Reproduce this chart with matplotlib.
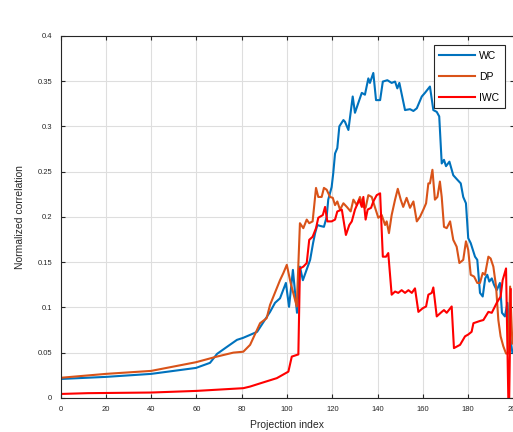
import numpy as np
import matplotlib.pyplot as plt

plt.rcParams['font.family'] = ['Liberation Sans', 'DejaVu Sans']

# values
wc_x = [1, 20.1, 40, 59.8, 66, 69.1, 73.5, 77.9, 80.6, 83.7, 86.8, 89.4, 92.5, 94.7, 96.9,
        99.5, 100.9, 102.6, 104.4, 105.7, 107, 110.2, 111.5, 112.4, 113.4, 114.6, 116.3,
        117.5, 118.2, 119.7, 120.4, 121.2, 122.2, 123.1, 124.9, 125.6, 127.1, 129.0, 130.0,
        131.9, 133.0, 134.4, 135.9, 136.6, 138.1, 139.3, 141.1, 142.3, 144.3, 146.2, 147.7,
        148.7, 149.6, 152.1, 154.3, 155.8, 157.3, 159.5, 160.9, 163.1, 164.6, 166.1, 167.2,
        168.3, 169.3, 170.2, 171.7, 173.4, 175.2, 176.7, 177.8, 179.0, 180.0, 181.1, 183.0,
        184.0, 185.2, 186.4, 187.5, 188.4, 189.3, 190.4, 191.4, 192.6, 194.0, 194.9, 196.2,
        197.3, 198.1, 199.5]
wc_y = [0.021, 0.0232, 0.0265, 0.0331, 0.0387, 0.0486, 0.0564, 0.0641, 0.0663, 0.0696, 0.073,
        0.083, 0.095, 0.105, 0.110, 0.127, 0.1006, 0.1414, 0.094, 0.145, 0.130, 0.1525, 0.171,
        0.182, 0.191, 0.190, 0.189, 0.200, 0.219, 0.233, 0.248, 0.270, 0.276, 0.300, 0.307,
        0.305, 0.296, 0.333, 0.315, 0.329, 0.337, 0.335, 0.353, 0.348, 0.359, 0.329, 0.329,
        0.3495, 0.351, 0.348, 0.3495, 0.342, 0.348, 0.318, 0.319, 0.317, 0.320, 0.333, 0.337,
        0.344, 0.318, 0.316, 0.311, 0.259, 0.263, 0.256, 0.261, 0.246, 0.241, 0.237, 0.222,
        0.215, 0.1765, 0.171, 0.156, 0.1525, 0.116, 0.112, 0.132, 0.136, 0.1285, 0.132, 0.125,
        0.119, 0.127, 0.094, 0.090, 0.105, 0.075, 0.05]

dp_x = [1, 20, 40, 59.8, 69.0, 76.3, 80.7, 83.7, 88.1, 91.0, 92.5, 96.9, 98.4, 99.9, 101.6,
        104.3, 105.7, 107.2, 108.7, 109.8, 111.3, 112.8, 113.8, 115.3, 116.3, 117.5, 119.0,
        120.2, 121.2, 122.2, 123.4, 124.9, 126.4, 128.1, 129.3, 130.8, 132.2, 133.7, 134.7,
        135.9, 137.4, 138.9, 140.3, 141.8, 143.3, 144.0, 145.0, 146.2, 147.7, 148.9, 150.2,
        151.3, 152.8, 154.3, 155.8, 157.3, 158.7, 160.2, 161.4, 162.4, 163.1, 164.2, 165.3,
        166.4, 167.5, 168.3, 169.3, 170.5, 172.0, 173.4, 174.9, 176.1, 177.8, 179.0, 180.0,
        181.1, 182.6, 184.0, 185.2, 186.4, 187.4, 188.9, 189.9, 191.1, 192.3, 193.3, 194.3,
        195.5, 196.7, 197.7, 198.5, 199.5]
dp_y = [0.0224, 0.0265, 0.0298, 0.0394, 0.0456, 0.050, 0.051, 0.0586, 0.0825, 0.088, 0.1027,
        0.130, 0.138, 0.147, 0.127, 0.101, 0.193, 0.1875, 0.197, 0.193, 0.195, 0.232, 0.222,
        0.222, 0.232, 0.230, 0.222, 0.221, 0.213, 0.217, 0.208, 0.215, 0.211, 0.206, 0.219,
        0.213, 0.222, 0.211, 0.210, 0.224, 0.222, 0.210, 0.199, 0.202, 0.191, 0.195, 0.182,
        0.202, 0.219, 0.231, 0.219, 0.211, 0.221, 0.210, 0.217, 0.195, 0.200, 0.208, 0.215,
        0.237, 0.237, 0.252, 0.219, 0.222, 0.239, 0.222, 0.189, 0.1875, 0.195, 0.1746, 0.167,
        0.149, 0.1525, 0.173, 0.1635, 0.136, 0.134, 0.127, 0.127, 0.138, 0.136, 0.156, 0.154,
        0.145, 0.123, 0.086, 0.068, 0.057, 0.049, 0.049, 0.123, 0.06]

iwc_x = [1, 12, 40, 60, 80.7, 83.7, 88.1, 95.5, 100.6, 102.1, 105.0, 105.7, 107.2, 108.7,
         109.8, 111.3, 112.8, 113.8, 115.8, 116.8, 117.8, 119.7, 121.2, 122.2, 124.2, 126.0,
         127.5, 128.6, 130.0, 131.9, 133.0, 133.7, 134.7, 135.6, 137.1, 138.1, 139.6, 141.1,
         142.3, 143.7, 144.7, 146.2, 147.7, 149.1, 150.6, 152.1, 153.6, 155.1, 156.5, 158.0,
         159.9, 161.4, 162.4, 163.9, 164.6, 166.1, 168.3, 169.3, 170.5, 172.7, 173.7, 176.4,
         178.6, 180.0, 181.5, 182.3, 185.2, 186.7, 188.9, 190.4, 192.6, 194.3, 195.2, 196.7,
         197.7, 198.1, 198.8]
iwc_y = [0.0044, 0.0052, 0.0059, 0.0077, 0.0107, 0.0125, 0.016, 0.0218, 0.029, 0.0456, 0.048,
         0.143, 0.145, 0.149, 0.1746, 0.178, 0.1875, 0.199, 0.202, 0.211, 0.195, 0.195, 0.197,
         0.206, 0.208, 0.180, 0.191, 0.195, 0.208, 0.219, 0.211, 0.222, 0.197, 0.208, 0.210,
         0.217, 0.224, 0.226, 0.156, 0.156, 0.160, 0.114, 0.1175, 0.116, 0.119, 0.116, 0.119,
         0.116, 0.121, 0.095, 0.099, 0.101, 0.114, 0.116, 0.122, 0.090, 0.095, 0.097, 0.094,
         0.101, 0.055, 0.0586, 0.068, 0.070, 0.073, 0.0825, 0.085, 0.086, 0.095, 0.094, 0.105,
         0.112, 0.130, 0.143, 0.0, 0.0, 0.12]

fig = plt.figure(figsize=(5.13, 4.32), dpi=100)
ax = fig.add_axes([0.118, 0.079, 0.883, 0.838])

ax.plot(wc_x, wc_y, color='#0072BD', lw=1.5, label='WC')
ax.plot(dp_x, dp_y, color='#D95319', lw=1.5, label='DP')
ax.plot(iwc_x, iwc_y, color='#FF0000', lw=1.5, label='IWC')

ax.set_xlim(0, 200)
ax.set_ylim(0, 0.4)
ax.set_xticks(np.arange(0, 201, 20))
yt = np.arange(0, 0.401, 0.05)
ax.set_yticks(yt)
ax.set_yticklabels(['0'] + ['%g' % round(v, 2) for v in yt[1:]])
ax.grid(True, color='#dedede', lw=0.8)
ax.set_axisbelow(True)
ax.tick_params(direction='in', top=True, right=True, labelsize=5.5,
               colors='#262626', length=3, pad=6)
for s in ax.spines.values():
    s.set_color('#262626')
    s.set_linewidth(0.8)

ax.set_xlabel('Projection index', fontsize=7.5, color='#262626', labelpad=5)
ax.set_ylabel('Normalized correlation', fontsize=7.5, color='#262626', labelpad=9)

leg = ax.legend(loc='upper right', bbox_to_anchor=(0.981, 0.975), borderaxespad=0,
                fontsize=7.5, fancybox=False, framealpha=1, handlelength=3.4,
                labelspacing=1.05, handletextpad=0.4, borderpad=0.55)
leg.get_frame().set_edgecolor('#262626')
leg.get_frame().set_linewidth(0.8)

fig.savefig('out.png', dpi=100)
